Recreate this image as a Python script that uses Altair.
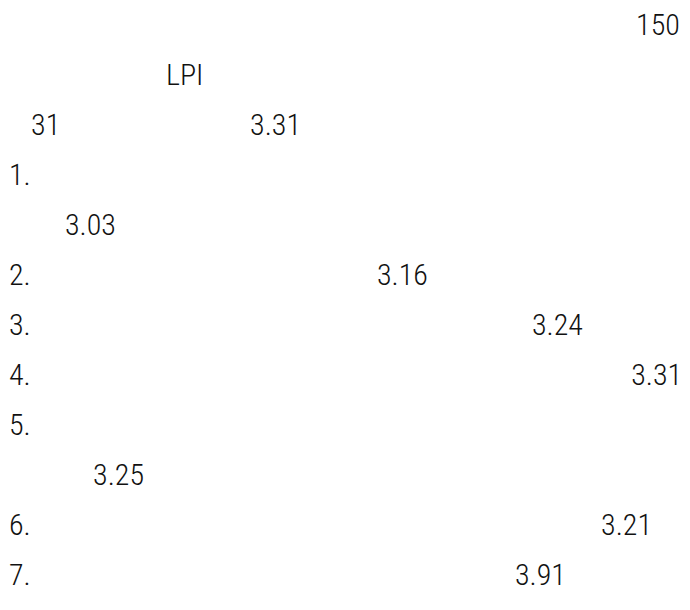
import altair as alt
import pandas as pd

# Visible text fragments (CJK glyphs in the reference render blank)
fragments = ["150", "LPI", "31", "3.31", "1.", "3.03", "2.", "3.16", "3.", "3.24",
             "4.", "3.31", "5.", "3.25", "6.", "3.21", "7.", "3.91"]
# line number of each fragment in the text block
line_no = [0, 1, 2, 2, 3, 4, 5, 5, 6, 6, 7, 7, 8, 9, 10, 10, 11, 11]
# horizontal position, in character cells of the text block
char_col = [21.85, 5.47, 0.77, 8.4, 0.0, 1.95, 0.0, 12.82, 0.0, 18.22,
            0.0, 21.68, 0.0, 2.93, 0.0, 20.63, 0.0, 17.63]

df = pd.DataFrame({"text": fragments, "line": line_no, "col": char_col})

chart = alt.Chart(df).mark_text(
    font="Roboto Condensed Light, Roboto Condensed", fontSize=30, fontWeight=300,
    align="left", baseline="middle", color="#111111"
).encode(
    x=alt.X("col:Q", scale=alt.Scale(domain=[-0.035, 23.45], nice=False, zero=False), axis=None),
    y=alt.Y("line:Q", scale=alt.Scale(domain=[0, 11], range=[18, 568], nice=False, zero=False), axis=None),
    text="text:N",
).properties(
    width=674, height=594, padding=0,
    autosize=alt.AutoSizeParams(type="none"),
).configure_view(stroke=None)

chart.save("out.html", embed_options={"renderer": "svg", "actions": False})
